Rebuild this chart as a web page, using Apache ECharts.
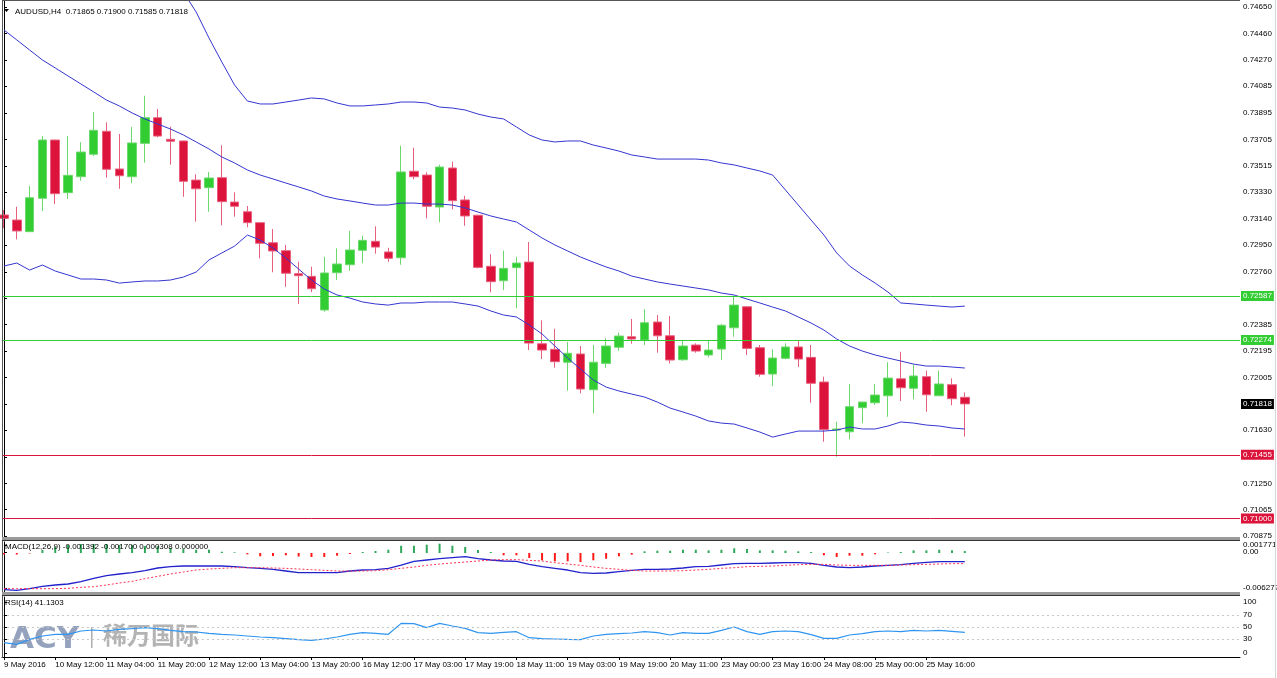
<!DOCTYPE html>
<html><head><meta charset="utf-8">
<script src="https://cdn.jsdelivr.net/npm/echarts@6/dist/echarts.min.js"></script>
<style>html,body{margin:0;padding:0;background:#fff}#c{width:1277px;height:678px}</style>
</head><body><div id="c"></div>
<script>
// ---------------- data ----------------
const symbolName = 'AUDUSD,H4';
// [open, close, low, high]
const candles = [
[0.73166,0.73142,0.73071,0.73201],[0.73130,0.73052,0.72992,0.73225],[0.73047,0.73289,0.73044,0.73373],[0.73285,0.73701,0.73194,0.73729],
[0.73701,0.73318,0.73244,0.73703],[0.73325,0.73449,0.73280,0.73729],[0.73439,0.73615,0.73410,0.73685],[0.73599,0.73770,0.73587,0.73901],
[0.73763,0.73492,0.73432,0.73827],[0.73494,0.73446,0.73353,0.73744],[0.73439,0.73680,0.73392,0.73794],[0.73677,0.73860,0.73539,0.74017],
[0.73860,0.73729,0.73720,0.73922],[0.73706,0.73692,0.73525,0.73796],[0.73694,0.73406,0.73296,0.73696],[0.73415,0.73353,0.73118,0.73456],
[0.73361,0.73430,0.73189,0.73473],[0.73432,0.73261,0.73092,0.73663],[0.73258,0.73228,0.73154,0.73328],[0.73189,0.73111,0.73078,0.73230],
[0.73111,0.72964,0.72857,0.73113],[0.72968,0.72909,0.72757,0.73066],[0.72911,0.72750,0.72654,0.72952],[0.72747,0.72733,0.72531,0.72832],
[0.72728,0.72640,0.72616,0.72797],[0.72488,0.72752,0.72476,0.72868],[0.72754,0.72816,0.72702,0.72928],[0.72811,0.72916,0.72768,0.73052],
[0.72914,0.72985,0.72821,0.73018],[0.72978,0.72937,0.72890,0.73085],[0.72902,0.72857,0.72832,0.72932],[0.72861,0.73473,0.72811,0.73660],
[0.73478,0.73439,0.73420,0.73646],[0.73451,0.73228,0.73142,0.73470],[0.73223,0.73508,0.73114,0.73525],[0.73501,0.73268,0.73206,0.73546],
[0.73273,0.73159,0.73089,0.73303],[0.73164,0.72792,0.72785,0.73168],[0.72800,0.72690,0.72614,0.72887],[0.72697,0.72785,0.72631,0.72911],
[0.72790,0.72823,0.72500,0.72868],[0.72830,0.72252,0.72202,0.72973],[0.72247,0.72202,0.72138,0.72414],[0.72207,0.72119,0.72076,0.72354],
[0.72115,0.72179,0.71912,0.72259],[0.72174,0.71924,0.71893,0.72231],[0.71919,0.72115,0.71751,0.72238],[0.72107,0.72231,0.72076,0.72286],
[0.72222,0.72302,0.72197,0.72326],[0.72297,0.72281,0.72247,0.72424],[0.72274,0.72397,0.72238,0.72493],[0.72402,0.72304,0.72183,0.72452],
[0.72304,0.72131,0.72107,0.72445],[0.72133,0.72231,0.72126,0.72274],[0.72238,0.72195,0.72183,0.72250],[0.72167,0.72202,0.72150,0.72274],
[0.72209,0.72379,0.72131,0.72388],[0.72361,0.72523,0.72297,0.72590],[0.72511,0.72214,0.72167,0.72516],[0.72219,0.72029,0.72012,0.72238],
[0.72031,0.72145,0.71945,0.72207],[0.72143,0.72224,0.72136,0.72250],[0.72224,0.72138,0.72081,0.72274],[0.72150,0.71965,0.71826,0.72238],
[0.71974,0.71636,0.71548,0.72012],[0.71631,0.71639,0.71441,0.71691],[0.71619,0.71798,0.71565,0.71960],[0.71791,0.71831,0.71679,0.71833],
[0.71826,0.71881,0.71810,0.71960],[0.71876,0.72002,0.71726,0.72115],[0.71997,0.71933,0.71838,0.72190],[0.71929,0.72017,0.71850,0.72100],
[0.72012,0.71883,0.71762,0.72055],[0.71876,0.71960,0.71874,0.72055],[0.71955,0.71855,0.71808,0.72000],[0.71865,0.71818,0.71585,0.71900]
];
const bbUpper = [null,null,null,null,null,null,null,null,null,null,null,null,null,null,
0.74757,0.74614,0.74429,0.74258,0.74093,0.73979,0.73958,0.73958,0.73972,0.73986,0.74001,0.73994,0.73965,0.73944,0.73944,0.73951,
0.73958,0.73972,0.73972,0.73965,0.73936,0.73929,0.73915,0.73886,0.73865,0.73851,0.73794,0.73737,0.73701,0.73687,0.73694,0.73694,
0.73665,0.73644,0.73622,0.73594,0.73580,0.73565,0.73565,0.73565,0.73565,0.73558,0.73537,0.73523,0.73501,0.73480,0.73451,0.73344,
0.73237,0.73130,0.73023,0.72895,0.72802,0.72738,0.72680,0.72616,0.72538,0.72531,0.72523,0.72516,0.72509,0.72516];
const bbMiddle = [0.74486,0.74415,0.74343,0.74272,0.74215,0.74158,0.74101,0.74044,0.73986,0.73944,0.73894,0.73851,0.73815,0.73779,0.73737,0.73687,
0.73637,0.73580,0.73537,0.73487,0.73451,0.73423,0.73394,0.73366,0.73337,0.73301,0.73280,0.73266,0.73251,0.73237,0.73237,0.73251,
0.73251,0.73244,0.73244,0.73237,0.73216,0.73187,0.73159,0.73137,0.73116,0.73059,0.73002,0.72952,0.72909,0.72866,0.72830,0.72795,
0.72766,0.72730,0.72709,0.72688,0.72673,0.72659,0.72645,0.72631,0.72609,0.72595,0.72566,0.72538,0.72509,0.72481,0.72438,0.72395,
0.72345,0.72281,0.72231,0.72195,0.72167,0.72145,0.72124,0.72102,0.72088,0.72088,0.72081,0.72074];
const bbLower = [0.72802,0.72823,0.72773,0.72809,0.72766,0.72738,0.72709,0.72709,0.72702,0.72680,0.72688,0.72695,0.72695,0.72702,0.72723,0.72759,
0.72845,0.72895,0.72944,0.73023,0.72987,0.72930,0.72859,0.72780,0.72702,0.72638,0.72595,0.72573,0.72545,0.72531,0.72523,0.72538,
0.72538,0.72545,0.72545,0.72545,0.72531,0.72516,0.72481,0.72452,0.72438,0.72381,0.72317,0.72231,0.72145,0.72067,0.71988,0.71938,
0.71910,0.71888,0.71867,0.71831,0.71788,0.71760,0.71731,0.71696,0.71681,0.71674,0.71646,0.71617,0.71581,0.71603,0.71624,0.71624,
0.71624,0.71631,0.71653,0.71639,0.71639,0.71660,0.71689,0.71681,0.71667,0.71660,0.71646,0.71639];
const levelsGreen = [0.72587, 0.72274];
const levelsRed = [0.71455, 0.71000];
const macdMain = [-0.005898,-0.006005,-0.005737,-0.005362,-0.005148,-0.004987,-0.004611,-0.004075,-0.003646,-0.003378,
-0.003164,-0.002842,-0.002413,-0.002198,-0.002091,-0.002091,-0.002091,-0.002091,-0.002198,-0.002359,
-0.002467,-0.002627,-0.002895,-0.003164,-0.003164,-0.003164,-0.003164,-0.002895,-0.002735,-0.002681,
-0.002467,-0.00193,-0.001341,-0.001126,-0.000912,-0.000751,-0.00059,-0.000912,-0.001126,-0.001287,
-0.001341,-0.001823,-0.002198,-0.002467,-0.002735,-0.003164,-0.003271,-0.003217,-0.003003,-0.002788,
-0.002627,-0.002627,-0.002574,-0.002413,-0.002198,-0.002145,-0.00193,-0.001716,-0.001662,-0.001662,
-0.001609,-0.001555,-0.001555,-0.001662,-0.001984,-0.002252,-0.002359,-0.002252,-0.002091,-0.001984,
-0.001877,-0.001662,-0.001501,-0.001394,-0.001394,-0.001392];
const macdSignal = [-0.005737,-0.005737,-0.005737,-0.005737,-0.005737,-0.005684,-0.005523,-0.005416,-0.005148,-0.004826,
-0.004558,-0.004129,-0.003753,-0.003378,-0.003056,-0.002735,-0.002574,-0.002467,-0.002359,-0.002359,
-0.002359,-0.002413,-0.002467,-0.002574,-0.002681,-0.002788,-0.002895,-0.002895,-0.002895,-0.002842,
-0.002681,-0.002467,-0.002252,-0.001984,-0.001769,-0.001609,-0.001448,-0.001287,-0.001126,-0.001072,
-0.001072,-0.00118,-0.001287,-0.001555,-0.001769,-0.001984,-0.002252,-0.002467,-0.002627,-0.002788,
-0.002895,-0.002895,-0.002895,-0.002842,-0.002735,-0.002627,-0.002467,-0.002359,-0.002198,-0.002145,
-0.002091,-0.001984,-0.001877,-0.001823,-0.001823,-0.00193,-0.001984,-0.001984,-0.001984,-0.001984,
-0.00193,-0.001877,-0.001823,-0.001769,-0.001716,-0.0017];
const macdHist = [-0.00024,-0.00024,-0.00008,0.00048,0.00097,0.00129,0.00145,0.00145,0.00145,0.00129,
0.00129,0.00113,0.00113,0.0008,0.00064,0.00053,0.00053,0.00021,0.00011,-0.00021,
-0.00053,-0.00048,-0.00037,-0.00056,-0.00064,-0.00064,-0.00043,-0.00016,0.00016,0.00032,
0.00053,0.00117,0.00117,0.00134,0.0015,0.00117,0.00097,0.00048,0.00016,-0.00037,
-0.00037,-0.0008,-0.00117,-0.00134,-0.00134,-0.00145,-0.00117,-0.00092,-0.00053,-0.00027,
0.00027,0.00037,0.00037,0.00053,0.00053,0.00043,0.00053,0.00076,0.00064,0.00043,
0.00043,0.00037,0.00027,0.00016,-0.00037,-0.00064,-0.00043,-0.00043,-0.00021,0.00008,
0.00016,0.00043,0.00043,0.00053,0.00043,0.00031];
const macdTitleVals = ['-0.001392','-0.001700','0.000308','0.000000'];
const rsi = [23.9,21.1,29.4,35.0,37.8,37.8,43.3,45.0,43.3,46.1,47.2,48.9,47.2,44.4,42.2,41.7,39.4,37.8,36.7,35.0,
33.3,32.2,30.6,28.9,27.8,30.0,33.3,37.8,40.6,39.4,37.8,56.1,55.6,48.9,56.1,51.7,47.8,40.6,39.4,41.1,
42.2,32.2,30.6,30.0,29.4,28.9,35.0,37.8,38.9,40.0,42.2,40.6,36.7,40.6,39.4,39.4,44.4,50.0,42.2,37.8,
42.2,43.3,42.2,37.2,31.1,31.1,36.7,38.9,42.2,43.3,42.2,44.4,43.3,44.4,42.8,41.13];
const rsiTitle = '41.1303';
const rsiLevels = [70, 50, 30];
const timeTickLabels = ['9 May 2016','10 May 12:00','11 May 04:00','11 May 20:00','12 May 12:00','13 May 04:00','13 May 20:00',
'16 May 12:00','17 May 03:00','17 May 19:00','18 May 11:00','19 May 03:00','19 May 19:00','20 May 11:00','23 May 00:00',
'23 May 16:00','24 May 08:00','25 May 00:00','25 May 16:00'];
const priceTickLabels = ['0.74650','0.74460','0.74270','0.74085','0.73895','0.73705','0.73515','0.73330','0.73140','0.72950',
'0.72760','0.72575','0.72385','0.72195','0.72005','0.71815','0.71630','0.71440','0.71250','0.71065','0.70875'];
const macdTickLabels = ['0.001771', '0.00', '-0.006272'];
const rsiTickLabels = ['100','70','50','30','0'];

// ---------------- layout / style ----------------
const BARS_PER_LABEL = 4;
const XMIN = -0.156, XMAX = 96.48;
const macdTickPos = [0.00120, 0.00020, -0.00565];
const macdLabelPos = [0.00072, -0.00565];           // top two labels drawn as one stacked label
const rsiTickPos = [92, 70, 50, 30, 7];
const FONT = "'Liberation Sans', Arial, sans-serif";
const FS = 8;
const GREEN = '#32CD32', RED = '#DC143C';
const fmt5 = v => v.toFixed(5);
const nearest = (arr, v) => { let b = 0; arr.forEach((p, i) => { if (Math.abs(p - v) < Math.abs(arr[b] - v)) b = i; }); return b; };

const priceTickValues = priceTickLabels.map(Number);
const timeTickPos = timeTickLabels.map((_, k) => k * BARS_PER_LABEL);
const last = candles[candles.length - 1];
const titleText = symbolName + '  ' + fmt5(last[0]) + ' ' + fmt5(last[3]) + ' ' + fmt5(last[2]) + ' ' + fmt5(last[1]);
const macdLabelText = [macdTickLabels[0] + '\n' + macdTickLabels[1], macdTickLabels[2]];

const chart = echarts.init(document.getElementById('c'), null, { renderer: 'canvas' });

const gridBase = { left: 2, right: 37, outerBoundsMode: 'none', containLabel: false };
const xBase = (gi) => ({ type: 'value', gridIndex: gi, min: XMIN, max: XMAX, show: false, splitLine: { show: false } });
const tagLabel = (bg) => ({ show: true, position: 'end', distance: 1, formatter: p => fmt5(p.value), color: '#fff', backgroundColor: bg,
  padding: [1, 2, 1, 2], fontSize: FS, fontFamily: FONT });
const levelMark = (values, lineColor, bg) => ({
  silent: true, symbol: ['none', 'none'], animation: false, precision: 5, z: 6,
  lineStyle: { color: lineColor, width: 1, type: 'solid', opacity: 1 },
  label: tagLabel(bg),
  emphasis: { disabled: true },
  data: values.map(v => ({ yAxis: v }))
});
const yLabel = (pos, labels, extra) => Object.assign({ show: true, customValues: pos, margin: 3, fontSize: FS, fontFamily: FONT, color: '#000',
  hideOverlap: false, formatter: v => labels[nearest(pos, v)] }, extra || {});

const option = {
  animation: false,
  backgroundColor: '#fff',
  grid: [
    Object.assign({ top: 0, height: 538 }, gridBase),
    Object.assign({ top: 542, height: 50 }, gridBase),
    Object.assign({ top: 597, height: 60 }, gridBase)
  ],
  xAxis: [
    xBase(0), xBase(1),
    Object.assign(xBase(2), {
      show: true,
      axisLine: { show: true, lineStyle: { color: '#000', width: 1 } },
      axisTick: { show: true, length: 3, lineStyle: { color: '#000' }, customValues: timeTickPos },
      axisLabel: { show: true, customValues: timeTickPos, align: 'left', margin: 4, fontSize: FS, fontFamily: FONT, color: '#000',
                   hideOverlap: false, formatter: v => timeTickLabels[nearest(timeTickPos, v)] }
    })
  ],
  yAxis: [
    { type: 'value', gridIndex: 0, position: 'right', min: 0.70861, max: 0.74700,
      axisLine: { show: true, lineStyle: { color: '#000' } },
      axisTick: { show: true, length: 3, lineStyle: { color: '#000' }, customValues: priceTickValues },
      axisLabel: yLabel(priceTickValues, priceTickLabels), splitLine: { show: false } },
    { type: 'value', gridIndex: 1, position: 'right', min: -0.006272, max: 0.001771,
      axisLine: { show: true, lineStyle: { color: '#000' } },
      axisTick: { show: true, length: 3, lineStyle: { color: '#000' }, customValues: macdTickPos },
      axisLabel: yLabel(macdLabelPos, macdLabelText, { lineHeight: 7 }), splitLine: { show: false } },
    { type: 'value', gridIndex: 2, position: 'right', min: 0, max: 100,
      axisLine: { show: true, lineStyle: { color: '#000' } },
      axisTick: { show: true, length: 3, lineStyle: { color: '#000' }, customValues: rsiTickPos },
      axisLabel: yLabel(rsiTickPos, rsiTickLabels), splitLine: { show: false } }
  ],
  series: [
    { type: 'candlestick', xAxisIndex: 0, yAxisIndex: 0, z: 2, barWidth: 9,
      data: candles.map((c, i) => [i, c[0], c[1], c[2], c[3]]),
      encode: { x: 0, y: [1, 2, 3, 4] },
      itemStyle: { color: GREEN, color0: RED, borderColor: '#6bd86b', borderColor0: '#e8607e', borderWidth: 1 } },
    { type: 'line', xAxisIndex: 0, yAxisIndex: 0, z: 3, showSymbol: false, connectNulls: false,
      data: bbUpper.map((v, i) => [i, v]), lineStyle: { color: '#3535d0', width: 1 },
      markLine: levelMark(levelsGreen, GREEN, GREEN) },
    { type: 'line', xAxisIndex: 0, yAxisIndex: 0, z: 3, showSymbol: false,
      data: bbMiddle.map((v, i) => [i, v]), lineStyle: { color: '#3535d0', width: 1 },
      markLine: levelMark([last[1]], 'rgba(0,0,0,0)', '#000') },
    { type: 'line', xAxisIndex: 0, yAxisIndex: 0, z: 3, showSymbol: false,
      data: bbLower.map((v, i) => [i, v]), lineStyle: { color: '#3535d0', width: 1 },
      markLine: levelMark(levelsRed, RED, RED) },
    { type: 'bar', xAxisIndex: 1, yAxisIndex: 1, barWidth: 2, z: 2,
      data: macdHist.map((v, i) => ({ value: [i, v], itemStyle: { color: v >= 0 ? '#2ea85a' : '#ff1a1a' } })) },
    { type: 'line', xAxisIndex: 1, yAxisIndex: 1, z: 3, showSymbol: false,
      data: macdMain.map((v, i) => [i, v]), lineStyle: { color: '#2222cc', width: 1.3 } },
    { type: 'line', xAxisIndex: 1, yAxisIndex: 1, z: 3, showSymbol: false,
      data: macdSignal.map((v, i) => [i, v]), lineStyle: { color: '#ff3355', width: 1, type: [2, 2] } },
    { type: 'line', xAxisIndex: 2, yAxisIndex: 2, z: 3, showSymbol: false,
      data: rsi.map((v, i) => [i, v]), lineStyle: { color: '#2f95f0', width: 1.2 },
      markLine: { silent: true, symbol: ['none', 'none'], animation: false, label: { show: false },
        lineStyle: { color: '#c8c8c8', width: 1, type: [2, 3] },
        data: rsiLevels.map(v => ({ yAxis: v })) } }
  ],
  graphic: [
    // watermark (under series)
    { type: 'text', z: 0, left: 10, top: 624, style: { text: 'ACY', font: "bold 31px 'DejaVu Sans'", fill: 'rgba(118,136,172,0.78)' } },
    { type: 'rect', z: 0, shape: { x: 91, y: 627, width: 1.5, height: 21 }, style: { fill: 'rgba(140,140,140,0.7)' } },
    { type: 'text', z: 0, left: 103, top: 623, style: { text: '稀万国际', font: "bold 24px 'Noto Sans CJK SC'", fill: 'rgba(150,150,150,0.72)' } },
    // frames
    { type: 'rect', z: 100, shape: { x: 2, y: 0, width: 1, height: 658 }, style: { fill: '#555' } },
    { type: 'rect', z: 100, shape: { x: 2, y: 0, width: 1238, height: 1 }, style: { fill: '#555' } },
    { type: 'rect', z: 100, shape: { x: 2, y: 537, width: 1238, height: 3 }, style: { fill: '#9a9a9a' } },
    { type: 'rect', z: 100, shape: { x: 2, y: 540, width: 1238, height: 1 }, style: { fill: '#333' } },
    { type: 'rect', z: 100, shape: { x: 2, y: 592, width: 1238, height: 3 }, style: { fill: '#9a9a9a' } },
    { type: 'rect', z: 100, shape: { x: 2, y: 595, width: 1238, height: 1 }, style: { fill: '#333' } },
    { type: 'rect', z: 100, shape: { x: 1275, y: 0, width: 1, height: 678 }, style: { fill: '#d8d8d8' } },
    // titles
    { type: 'polygon', z: 101, shape: { points: [[4, 9], [9, 9], [6.5, 12]] }, style: { fill: '#000' } },
    { type: 'text', z: 101, left: 15, top: 8, style: { text: titleText, font: FS + 'px ' + FONT, fill: '#000' } },
    { type: 'text', z: 101, left: 5, top: 543, style: { text: 'MACD(12,26,9) ' + macdTitleVals.join(' '), font: FS + 'px ' + FONT, fill: '#000' } },
    { type: 'text', z: 101, left: 5, top: 599, style: { text: 'RSI(14) ' + rsiTitle, font: FS + 'px ' + FONT, fill: '#000' } }
  ]
};
chart.setOption(option);
</script>
</body></html>
